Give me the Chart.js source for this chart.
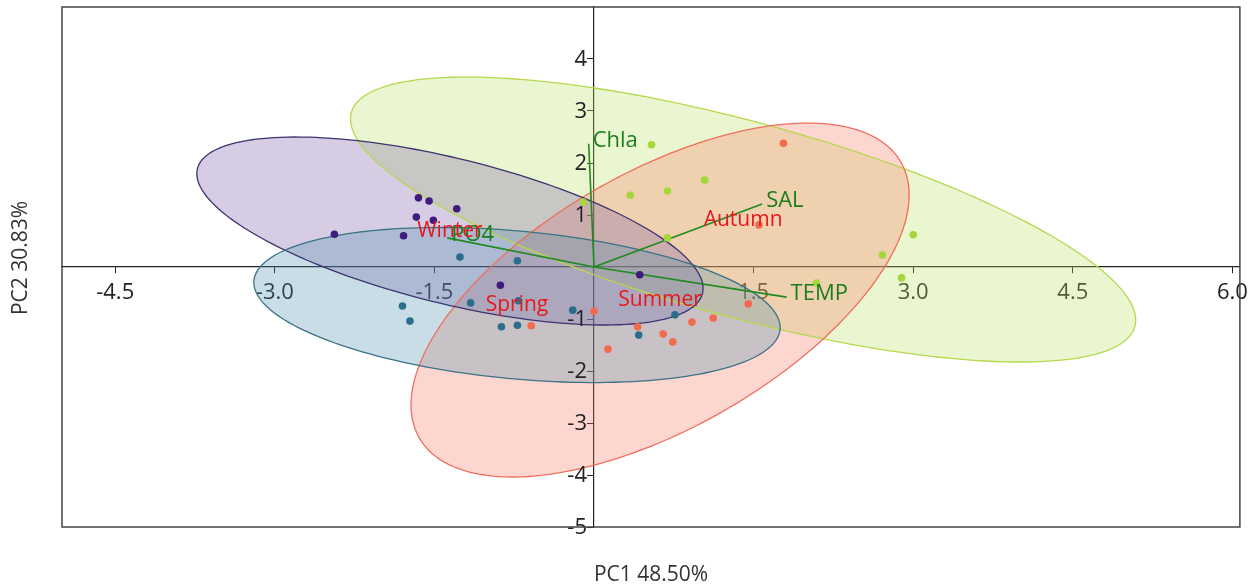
<!DOCTYPE html>
<html><head><meta charset="utf-8">
<script src="https://cdn.jsdelivr.net/npm/chart.js@4/dist/chart.umd.min.js"></script>
<style>html,body{margin:0;padding:0;background:#fff}#wrap{width:1255px;height:586px;position:relative}</style>
</head><body><div id="wrap"><canvas id="c" width="1255" height="586"></canvas></div>
<script>
// ---- data ----
const groupNames = ['Winter', 'Spring', 'Summer', 'Autumn'];
const winterX = [-1.65, -1.55, -1.29, -1.67, -1.51, -2.44, -1.79, -0.88, 0.43];
const winterY = [1.33, 1.27, 1.12, 0.96, 0.90, 0.63, 0.60, -0.35, -0.15];
const springX = [-1.26, -0.72, -1.16, -1.80, -1.73, -0.71, -0.20, -0.87, -0.72, 0.76, 0.42];
const springY = [0.19, 0.12, -0.69, -0.75, -1.04, -0.65, -0.83, -1.15, -1.12, -0.92, -1.31];
const summerX = [-0.59, 0.00, 0.13, 0.41, 0.65, 0.74, 0.92, 1.12, 1.45, 1.78, 1.55];
const summerY = [-1.13, -0.85, -1.58, -1.15, -1.29, -1.44, -1.06, -0.98, -0.71, 2.38, 0.81];
const autumnX = [-0.10, 0.54, 0.34, 0.69, 1.04, 0.69, 3.00, 2.71, 2.89, 2.09];
const autumnY = [1.25, 2.35, 1.38, 1.46, 1.67, 0.56, 0.62, 0.23, -0.21, -0.31];

// confidence ellipses: centre and conjugate semi-diameters (U=(ux,uy), V=(0,vy))
const ellipseCX = [-1.354, -0.724, 0.621, 1.401];
const ellipseCY = [0.692, -0.731, -0.635, 0.913];
const ellipseUX = [2.379, 2.473, 2.341, 3.690];
const ellipseUY = [-1.102, -0.433, 2.019, -1.933];
const ellipseVY = [1.433, 1.427, 2.740, 1.942];

const vectorNames = ['Chla', 'SAL', 'TEMP', 'PO4'];
const vectorX = [-0.05, 1.58, 1.81, -1.38];
const vectorY = [2.37, 1.21, -0.58, 0.56];

const xTicks = [-4.5, -3.0, -1.5, 1.5, 3.0, 4.5, 6.0];
const yTicks = [-5, -4, -3, -2, -1, 1, 2, 3, 4];
const xTitle = 'PC1 48.50%';
const yTitle = 'PC2 30.83%';

// ---- styles ----
const pointColors = ['#3f1b7d', '#2a6e8c', '#f46a4e', '#a6d63b'];
const fillColors = ['rgba(118,88,168,0.30)', 'rgba(75,142,172,0.30)', 'rgba(248,118,98,0.30)', 'rgba(185,225,95,0.30)'];
const strokeColors = ['#3d3470', '#3b7386', '#ef6f5c', '#b7d84e'];
const FONT = "'Open Sans', 'Noto Sans', sans-serif";

const toPts = (xs, ys) => xs.map((v, i) => ({x: v, y: ys[i]}));
const groupXs = [winterX, springX, summerX, autumnX];
const groupYs = [winterY, springY, summerY, autumnY];

const datasets = [];
groupNames.forEach((g, i) => {
  datasets.push({label: g, data: toPts(groupXs[i], groupYs[i]), pointRadius: 3.8, pointHoverRadius: 3.8,
    backgroundColor: pointColors[i], borderWidth: 0, order: 1});
});
vectorNames.forEach((n, i) => {
  datasets.push({label: n, data: [{x: 0, y: 0}, {x: vectorX[i], y: vectorY[i]}], showLine: true,
    borderColor: '#1f8a1f', borderWidth: 1.6, pointRadius: 0, order: 2});
});

const ellipsePlugin = {
  id: 'ellipses',
  beforeDatasetsDraw(chart) {
    const {ctx, chartArea: a} = chart;
    const sx = chart.scales.x, sy = chart.scales.y;
    ctx.save();
    ctx.beginPath(); ctx.rect(a.left, a.top, a.right - a.left, a.bottom - a.top); ctx.clip();
    const order = [3, 2, 0, 1];
    const paths = [];
    order.forEach(i => {
      const p = new Path2D();
      const N = 180;
      for (let k = 0; k <= N; k++) {
        const t = 2 * Math.PI * k / N;
        const dx = ellipseCX[i] + ellipseUX[i] * Math.cos(t);
        const dy = ellipseCY[i] + ellipseUY[i] * Math.cos(t) + ellipseVY[i] * Math.sin(t);
        const px = sx.getPixelForValue(dx), py = sy.getPixelForValue(dy);
        if (k === 0) p.moveTo(px, py); else p.lineTo(px, py);
      }
      p.closePath();
      paths.push([i, p]);
    });
    paths.forEach(([i, p]) => { ctx.fillStyle = fillColors[i]; ctx.fill(p); });
    ctx.lineWidth = 1.3;
    paths.forEach(([i, p]) => { ctx.strokeStyle = strokeColors[i]; ctx.stroke(p); });
    ctx.restore();
  }
};

const labelPlugin = {
  id: 'labels',
  afterDatasetsDraw(chart) {
    const {ctx} = chart;
    const sx = chart.scales.x, sy = chart.scales.y;
    ctx.save();
    ctx.font = `22px ${FONT}`;
    ctx.textBaseline = 'middle';
    ctx.textAlign = 'left';
    ctx.fillStyle = '#1a7f1a';
    vectorNames.forEach((n, i) => {
      ctx.fillText(n, sx.getPixelForValue(vectorX[i]) + 4, sy.getPixelForValue(vectorY[i]) - 3);
    });
    ctx.font = `21px ${FONT}`;
    ctx.textAlign = 'center';
    ctx.fillStyle = '#e8171d';
    groupNames.forEach((g, i) => {
      ctx.fillText(g, sx.getPixelForValue(ellipseCX[i]), sy.getPixelForValue(ellipseCY[i]));
    });
    ctx.restore();
  },
  afterDraw(chart) {
    const {ctx, chartArea: a} = chart;
    const sx = chart.scales.x, sy = chart.scales.y;
    ctx.save();
    // y tick labels, placed left of the tick marks on the vertical axis
    ctx.fillStyle = '#222';
    ctx.font = `22px ${FONT}`;
    ctx.textAlign = 'right';
    ctx.textBaseline = 'middle';
    const ax = sx.getPixelForValue(0);
    sy.ticks.forEach(t => {
      ctx.fillText(String(t.value), ax - 7, sy.getPixelForValue(t.value) + 1);
    });
    ctx.strokeStyle = '#444';
    ctx.lineWidth = 1.5;
    ctx.strokeRect(a.left, a.top, a.right - a.left, a.bottom - a.top);
    ctx.fillStyle = '#333';
    ctx.font = `21px ${FONT}`;
    ctx.textAlign = 'center';
    ctx.fillText(xTitle, 651, 575);
    ctx.translate(21, 258);
    ctx.rotate(-Math.PI / 2);
    ctx.fillText(yTitle, 0, 0);
    ctx.restore();
  }
};

new Chart(document.getElementById('c'), {
  type: 'scatter',
  data: {datasets},
  options: {
    responsive: false, animation: false,
    layout: {autoPadding: false, padding: {left: 62, top: 7, right: 14, bottom: 59}},
    plugins: {legend: {display: false}, tooltip: {enabled: false}},
    events: [],
    scales: {
      x: {
        type: 'linear', min: -5, max: 6.07, position: {y: 0},
        afterBuildTicks: s => { s.ticks = xTicks.map(v => ({value: v})); },
        grid: {display: true, drawOnChartArea: false, drawTicks: true, tickLength: 6, color: '#222', lineWidth: 1},
        border: {display: true, color: '#222', width: 1.2},
        ticks: {font: {family: FONT, size: 22}, color: '#222', padding: 7, maxRotation: 0, autoSkip: false,
          callback: v => Number(v).toFixed(1)}
      },
      y: {
        type: 'linear', min: -5, max: 5, position: {x: 0},
        afterBuildTicks: s => { s.ticks = yTicks.map(v => ({value: v})); },
        grid: {display: true, drawOnChartArea: false, drawTicks: true, tickLength: 6, color: '#222', lineWidth: 1},
        border: {display: true, color: '#222', width: 1.2},
        ticks: {display: false}
      }
    }
  },
  plugins: [ellipsePlugin, labelPlugin]
});
</script>
</body></html>
